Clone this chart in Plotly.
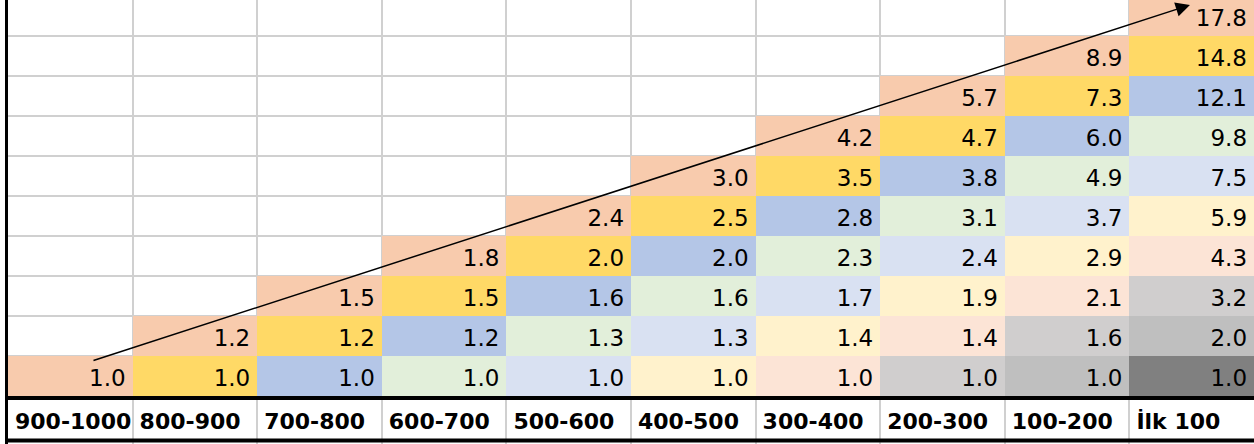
import plotly.graph_objects as go

# ---- data -------------------------------------------------------------
categories = ["900-1000", "800-900", "700-800", "600-700", "500-600",
              "400-500", "300-400", "200-300", "100-200", "İlk 100"]

# values of each column, bottom row first
v_900_1000 = [1.0]
v_800_900 = [1.0, 1.2]
v_700_800 = [1.0, 1.2, 1.5]
v_600_700 = [1.0, 1.2, 1.5, 1.8]
v_500_600 = [1.0, 1.3, 1.6, 2.0, 2.4]
v_400_500 = [1.0, 1.3, 1.6, 2.0, 2.5, 3.0]
v_300_400 = [1.0, 1.4, 1.7, 2.3, 2.8, 3.5, 4.2]
v_200_300 = [1.0, 1.4, 1.9, 2.4, 3.1, 3.8, 4.7, 5.7]
v_100_200 = [1.0, 1.6, 2.1, 2.9, 3.7, 4.9, 6.0, 7.3, 8.9]
v_ilk_100 = [1.0, 2.0, 3.2, 4.3, 5.9, 7.5, 9.8, 12.1, 14.8, 17.8]

columns = [v_900_1000, v_800_900, v_700_800, v_600_700, v_500_600,
           v_400_500, v_300_400, v_200_300, v_100_200, v_ilk_100]

# fill colour by distance from the top cell of each column
band_colors = ["#F8CBAD", "#FFD966", "#B4C6E7", "#E2EFDA", "#D9E1F2",
               "#FFF2CC", "#FCE4D6", "#D0CECE", "#BFBFBF", "#808080"]

# trend arrow (data units)
arrow_tail = (0.674, 0.875)
arrow_tip = (9.486, 9.775)

# ---- layout constants ---------------------------------------------------
n_cols = len(categories)
n_rows = max(len(c) for c in columns)
PAD_X = 0.056
TEXT_DY = 0.1
HEADER_Y = -0.68
Y_RANGE = [-1.2, 9.9]

# ---- build matrices -----------------------------------------------------
z = []
for r in range(n_rows):
    row = []
    for c, col in enumerate(columns):
        row.append(len(col) - 1 - r if r < len(col) else None)
    z.append(row)

colorscale = []
nb = len(band_colors)
for k, col in enumerate(band_colors):
    colorscale.append([k / nb, col])
    colorscale.append([(k + 1) / nb, col])

fig = go.Figure()
fig.add_trace(go.Heatmap(
    x=[c + 0.5 for c in range(n_cols)],
    y=[r + 0.5 for r in range(n_rows)],
    z=z, zmin=-0.5, zmax=nb - 0.5,
    colorscale=colorscale, showscale=False, hoverinfo="skip",
    xgap=0, ygap=0,
))

tx, ty, tt = [], [], []
for c, col in enumerate(columns):
    for r, v in enumerate(col):
        tx.append(c + 1 - PAD_X)
        ty.append(r + 0.5 - TEXT_DY)
        tt.append(f"{v:.1f}")
fig.add_trace(go.Scatter(
    x=tx, y=ty, text=tt, mode="text", textposition="middle left",
    textfont=dict(family="DejaVu Sans", size=23, color="black"),
    hoverinfo="skip", showlegend=False, cliponaxis=False,
))

fig.add_trace(go.Scatter(
    x=[c + PAD_X for c in range(n_cols)], y=[HEADER_Y] * n_cols,
    text=categories, mode="text", textposition="middle right",
    textfont=dict(family="DejaVu Sans", size=22, color="black", weight="bold"),
    hoverinfo="skip", showlegend=False, cliponaxis=False,
))

# header borders
for y0, y1 in [(-0.1, 0.0), (-1.16, -1.06)]:
    fig.add_shape(type="rect", xref="paper", x0=0, x1=1, yref="y", y0=y0, y1=y1,
                  fillcolor="black", line_width=0, layer="above")

fig.add_annotation(
    x=arrow_tip[0], y=arrow_tip[1], ax=arrow_tail[0], ay=arrow_tail[1],
    xref="x", yref="y", axref="x", ayref="y", text="",
    showarrow=True, arrowhead=2, arrowsize=1.9, arrowwidth=1.5,
    arrowcolor="black", standoff=0, startstandoff=0,
)

fig.update_xaxes(range=[0, n_cols], tickvals=list(range(n_cols + 1)),
                 showticklabels=False, ticks="", showgrid=True,
                 gridcolor="#D0D0D0", gridwidth=2, zeroline=False,
                 fixedrange=True)
fig.update_yaxes(range=Y_RANGE, tickvals=list(range(1, n_rows + 1)),
                 showticklabels=False, ticks="", showgrid=True,
                 gridcolor="#D0D0D0", gridwidth=2, zeroline=False,
                 showline=True, linecolor="black", linewidth=3,
                 fixedrange=True)

fig.update_layout(
    width=1254, height=444,
    margin=dict(l=8, r=0, t=0, b=0),
    plot_bgcolor="white", paper_bgcolor="white",
    showlegend=False,
)

fig.write_html(
    "out.html",
    config={"displayModeBar": False},
    post_script="document.body.style.margin='0';document.body.style.overflow='hidden';",
)
